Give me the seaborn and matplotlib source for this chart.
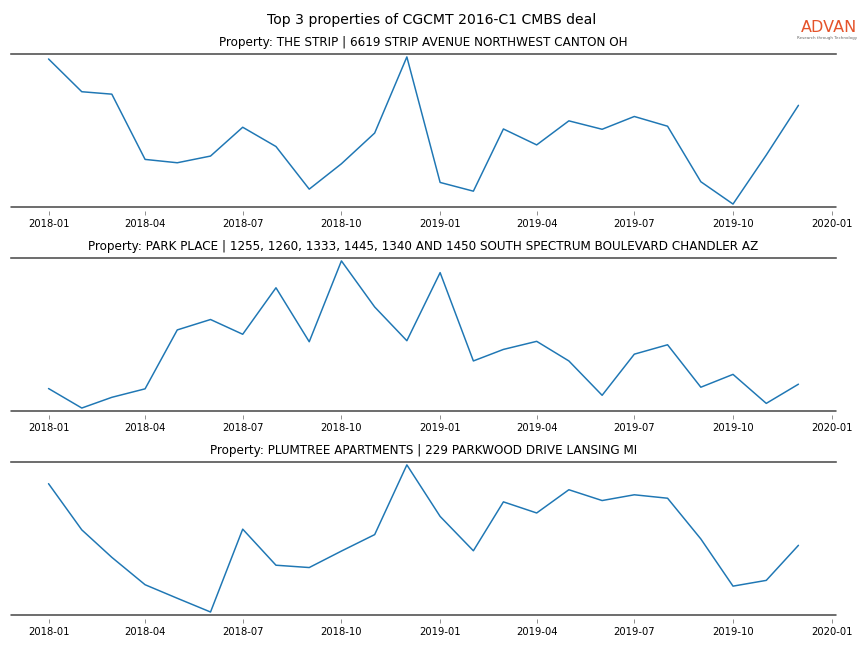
import matplotlib
matplotlib.use("Agg")
import matplotlib.pyplot as plt
import matplotlib.dates as mdates
import numpy as np
import pandas as pd
import seaborn as sns


######################Data######################
months = pd.date_range("2018-01-01", "2019-12-01", freq="MS")

title = "Top 3 properties of CGCMT 2016-C1 CMBS deal"
properties = [
    "THE STRIP | 6619 STRIP AVENUE NORTHWEST CANTON OH",
    "PARK PLACE | 1255, 1260, 1333, 1445, 1340 AND 1450 SOUTH SPECTRUM BOULEVARD CHANDLER AZ",
    "PLUMTREE APARTMENTS | 229 PARKWOOD DRIVE LANSING MI",
]

# monthly visits (no y scale shown on the chart, relative values)
strip_visits = [1490, 1167, 1143, 500, 467, 533, 817, 627, 207, 457, 760, 1510,
                273, 187, 800, 643, 880, 797, 923, 827, 280, 60, 543, 1033]
park_visits = [260, 67, 173, 257, 840, 943, 797, 1257, 723, 1523, 1067, 733,
               1407, 533, 647, 727, 533, 193, 600, 693, 273, 400, 113, 303]
plumtree_visits = [1347, 890, 618, 347, 213, 77, 897, 540, 517, 680, 843, 1533,
                   1023, 683, 1167, 1057, 1287, 1180, 1237, 1203, 800, 333, 390, 737]

series = [strip_visits, park_visits, plumtree_visits]


######################Plot######################
sns.set_style("white")
plt.rcParams["font.family"] = ["DejaVu Sans"]
plt.rcParams["text.color"] = "black"
plt.rcParams["xtick.color"] = "black"

fig, axes = plt.subplots(3, 1, figsize=(12, 9), dpi=72)
fig.subplots_adjust(left=0.0127, right=0.9676, top=0.9167, bottom=0.051, hspace=0.333)

for ax, name, vals in zip(axes, properties, series):
    df = pd.DataFrame({"month": months, "visits": vals})
    sns.lineplot(data=df, x="month", y="visits", ax=ax, color="#1f77b4", linewidth=1.5)
    ax.set_title("Property: " + name, fontsize=12, color="black", pad=8)
    ax.set_xlabel("")
    ax.set_ylabel("")
    ax.set_yticks([])
    ax.margins(y=0.02)
    ax.xaxis.set_major_locator(mdates.MonthLocator(bymonth=[1, 4, 7, 10]))
    ax.xaxis.set_major_formatter(mdates.DateFormatter("%Y-%m"))
    ax.set_xlim(pd.Timestamp("2018-01-01") - pd.Timedelta(days=35),
                pd.Timestamp("2019-12-01") + pd.Timedelta(days=35))
    # ticks sit a few pixels below the frame line
    ax.spines["bottom"].set_position(("outward", 4))
    ax.spines["bottom"].set_visible(False)
    ax.tick_params(axis="x", bottom=True, length=4, width=0.8, color="#777777",
                   labelsize=10, labelcolor="black", pad=4)
    for side in ["left", "right"]:
        ax.spines[side].set_visible(False)
    ax.spines["top"].set_color("#4d4d4d")
    ax.spines["top"].set_linewidth(1.6)
    ax.plot([0, 1], [0, 0], transform=ax.transAxes, color="#4d4d4d",
            linewidth=1.6, clip_on=False)

fig.suptitle(title, fontsize=14, y=0.98, color="black")

# logo
fig.text(0.992, 0.9576, "ADVAN", color="#E5532A", fontsize=16, ha="right", va="center")
fig.text(0.992, 0.941, "Research through Technology", color="#666666", fontsize=4,
         ha="right", va="center")

fig.savefig("out.png", dpi=72)
